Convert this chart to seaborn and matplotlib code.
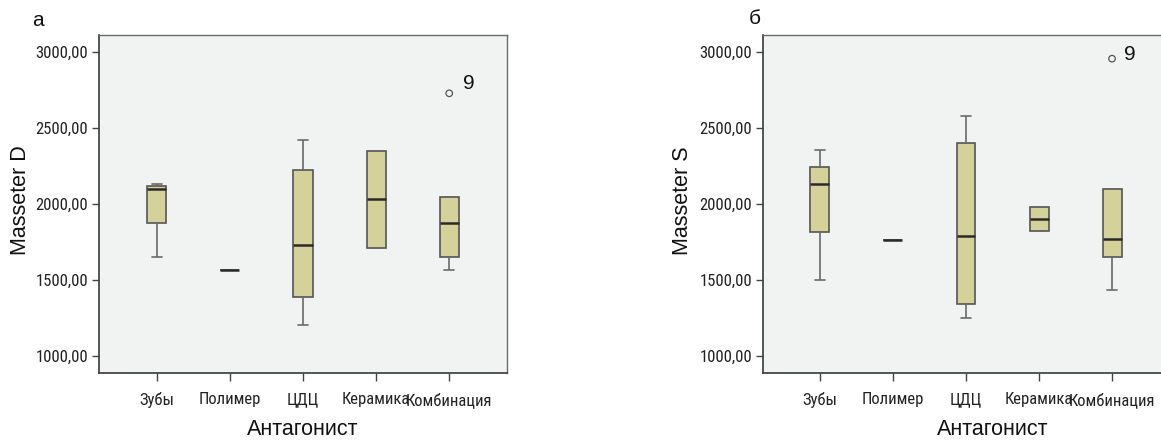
import numpy as np
import pandas as pd
import matplotlib
matplotlib.use("Agg")
import matplotlib.pyplot as plt
import seaborn as sns
from matplotlib import font_manager

# ================= Data =================
categories = ["Зубы", "Полимер", "ЦДЦ", "Керамика", "Комбинация"]

# Masseter D: five-number summary per category (whisker low, Q1, median, Q3, whisker high)
d_low = [1652, 1564, 1201, 1709, 1564]
d_q1 = [1876, 1564, 1388, 1709, 1652]
d_med = [2100, 1564, 1729, 2032, 1876]
d_q3 = [2118, 1564, 2224, 2351, 2044]
d_high = [2133, 1564, 2420, 2351, 2044]
d_outlier_cat = ["Комбинация"]
d_outlier_val = [2730]
d_outlier_lab = ["9"]

# Masseter S
s_low = [1499, 1765, 1252, 1821, 1434]
s_q1 = [1814, 1765, 1344, 1821, 1653]
s_med = [2134, 1765, 1788, 1904, 1770]
s_q3 = [2244, 1765, 2405, 1984, 2098]
s_high = [2354, 1765, 2579, 1984, 2098]
s_outlier_cat = ["Комбинация"]
s_outlier_val = [2958]
s_outlier_lab = ["9"]

y_ticks = [1000, 1500, 2000, 2500, 3000]

# ================= Style =================
BOX_FILL = "#D4D19A"
EDGE = "#555555"
BG = "#F1F2F2"

sns.set_style("ticks")
plt.rcParams['font.family'] = ['Liberation Sans', 'DejaVu Sans']


def find_narrow():
    """Look for a condensed sans face (tick labels in the source are narrow)."""
    wanted = ["LiberationSansNarrow-Regular", "RobotoCondensed-Regular", "OpenSans_Condensed-Regular",
              "OpenSansCondensed", "DejaVuSansCondensed.ttf", "NotoSans-Condensed", "Condensed-Regular"]
    files = [f.fname for f in font_manager.fontManager.ttflist]
    for w in wanted:
        for fn in files:
            if w in fn.replace(" ", "") and "Bold" not in fn and "Italic" not in fn and "Oblique" not in fn:
                return font_manager.FontProperties(fname=fn), True
    return font_manager.FontProperties(family="Liberation Sans"), False


NARROW, HAS_NARROW = find_narrow()
TICK_FS = 12 if HAS_NARROW else 10.3


def long_table(low, q1, med, q3, high):
    """Five-number summary as rows, so the library's own box stats reproduce it."""
    rows = []
    for i, cat in enumerate(categories):
        for v in (low[i], q1[i], med[i], q3[i], high[i]):
            rows.append({"Антагонист": cat, "value": v})
    return pd.DataFrame(rows)


def draw_panel(ax, df, out_cat, out_val, out_lab, ylabel, xlim, lab_off, xlabel_x, ylabel_x):
    ax.set_facecolor(BG)
    sns.boxplot(
        data=df, x="Антагонист", y="value", order=categories, ax=ax,
        whis=np.inf, width=0.26, color=BOX_FILL, linecolor=EDGE, linewidth=1.2,
        saturation=1, showfliers=False,
        medianprops=dict(color="#2a2a2a", linewidth=1.8),
        whiskerprops=dict(color="#6a6a6a", linewidth=1.2),
        capprops=dict(color="#6a6a6a", linewidth=1.2),
    )
    odf = pd.DataFrame({"Антагонист": out_cat, "value": out_val})
    sns.scatterplot(data=odf, x="Антагонист", y="value", ax=ax, marker="o", s=22,
                    facecolor="none", edgecolor="#555555", linewidth=0.9, zorder=5)
    for c, v, t in zip(out_cat, out_val, out_lab):
        ax.annotate(t, (categories.index(c), v), xytext=lab_off, textcoords="offset pixels",
                    ha="center", va="center", fontsize=15, color="#111111")

    ax.set_xlim(*xlim)
    ax.set_ylim(888, 3114)
    ax.set_yticks(y_ticks)
    ax.set_yticklabels([f"{t},00" for t in y_ticks], fontproperties=NARROW, fontsize=TICK_FS, color="#222222")
    ax.set_xticks(range(len(categories)))
    ax.set_xticklabels(categories, fontproperties=NARROW, fontsize=TICK_FS, color="#222222")
    ax.tick_params(axis="y", length=5, width=1, color="#444444", pad=3)
    ax.tick_params(axis="x", length=6, width=1, color="#444444", pad=8)

    ax.set_ylabel(ylabel, fontsize=15.5, color="#111111")
    ax.set_xlabel("Антагонист", fontsize=15.5, color="#111111")
    ax.yaxis.set_label_coords(ylabel_x, 0.51)
    ax.xaxis.set_label_coords(xlabel_x, -0.137)

    for side in ["top", "right"]:
        ax.spines[side].set_color("#6a6a6a")
        ax.spines[side].set_linewidth(1)
    for side in ["left", "bottom"]:
        ax.spines[side].set_color("#3a3a3a")
        ax.spines[side].set_linewidth(1.2)
    ax.grid(False)


fig = plt.figure(figsize=(11.61, 4.40), dpi=100)
ax1 = fig.add_axes([99 / 1161, 67 / 440, 408 / 1161, 338 / 440])
ax2 = fig.add_axes([763 / 1161, 67 / 440, 406 / 1161, 338 / 440])

draw_panel(ax1, long_table(d_low, d_q1, d_med, d_q3, d_high),
           d_outlier_cat, d_outlier_val, d_outlier_lab, "Masseter D",
           (-0.79, 4.79), (20, 10), 0.5, (31 - 99) / 408)
draw_panel(ax2, long_table(s_low, s_q1, s_med, s_q3, s_high),
           s_outlier_cat, s_outlier_val, s_outlier_lab, "Masseter S",
           (-0.78, 4.78), (18, 4), (993 - 763) / 406, (693 - 763) / 406)

fig.text(38 / 1161, 1 - 20 / 440, "а", fontsize=15, ha="center", va="center", color="#111111")
fig.text(755 / 1161, 1 - 19 / 440, "б", fontsize=15, ha="center", va="center", color="#111111")

fig.savefig("out.png", dpi=100, facecolor="white")
